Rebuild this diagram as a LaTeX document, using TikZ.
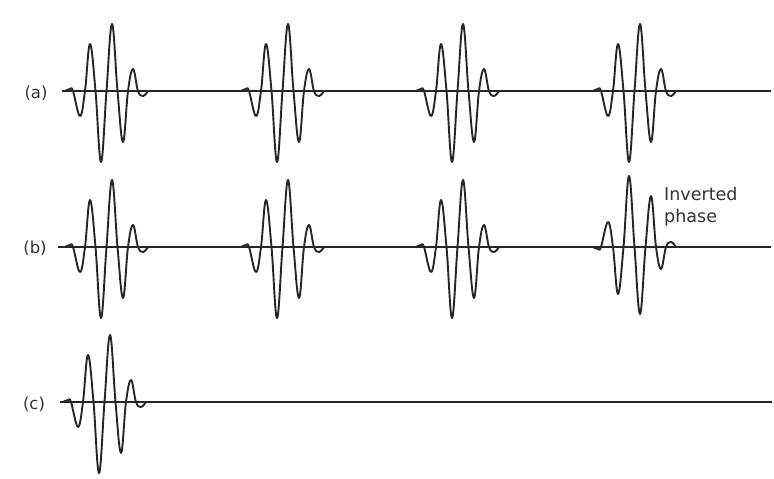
\documentclass[tikz,border=0pt]{standalone}
\usepackage{fontspec}
\setmainfont{DejaVu Sans}
\definecolor{inkc}{HTML}{262626}
\definecolor{textc}{HTML}{333333}
\tikzset{
  axisline/.style={line width=1.8pt, draw=inkc, line cap=butt},
  wave/.style={line width=1.9pt, draw=inkc, line join=round, line cap=round},
  rowlabel/.style={font=\fontsize{16.5}{16.5}\selectfont, text=textc, inner sep=0pt},
  notelabel/.style={font=\fontsize{17.5}{22}\selectfont, text=textc, inner sep=0pt, align=left},
  pics/wavelet/.style={code={
    \draw[wave] plot[smooth, tension=0.65] coordinates {
      (-5,0) (0,-2) (3,0) (10,25) (15,0) (20,-47) (25.5,0) (31,71) (36.5,0)
      (42,-67) (47.5,0) (53,51) (58,0) (63,-22) (68,0) (73,5) (78,0)};
  }},
}
\begin{document}
\begin{tikzpicture}[x=1pt,y=-1pt]
\useasboundingbox (0,0) rectangle (774,479);
\fill[white] (0,0) rectangle (774,479);

% axis lines
\coordinate (a0) at (62,91);  \coordinate (a1) at (771,91);
\coordinate (b0) at (58,247); \coordinate (b1) at (771,247);
\coordinate (c0) at (60,402); \coordinate (c1) at (772,402);
\draw[axisline] (a0) -- (a1);
\draw[axisline] (b0) -- (b1);
\draw[axisline] (c0) -- (c1);

% row (a)
\pic at (70,91) {wavelet};
\pic at (246,91) {wavelet};
\pic at (421,91) {wavelet};
\pic at (598,91) {wavelet};

% row (b)
\pic at (70,247) {wavelet};
\pic at (246,247) {wavelet};
\pic at (421,247) {wavelet};
\pic[yscale=-1] at (598,247) {wavelet};

% row (c)
\pic at (68,402) {wavelet};

% labels
\node[rowlabel] (la) at (36,93) {(a)};
\node[rowlabel] (lb) at (35,248) {(b)};
\node[rowlabel] (lc) at (34,404) {(c)};
\node[notelabel, anchor=north west] (inv) at (664,187) {Inverted\\phase};
\end{tikzpicture}
\end{document}
